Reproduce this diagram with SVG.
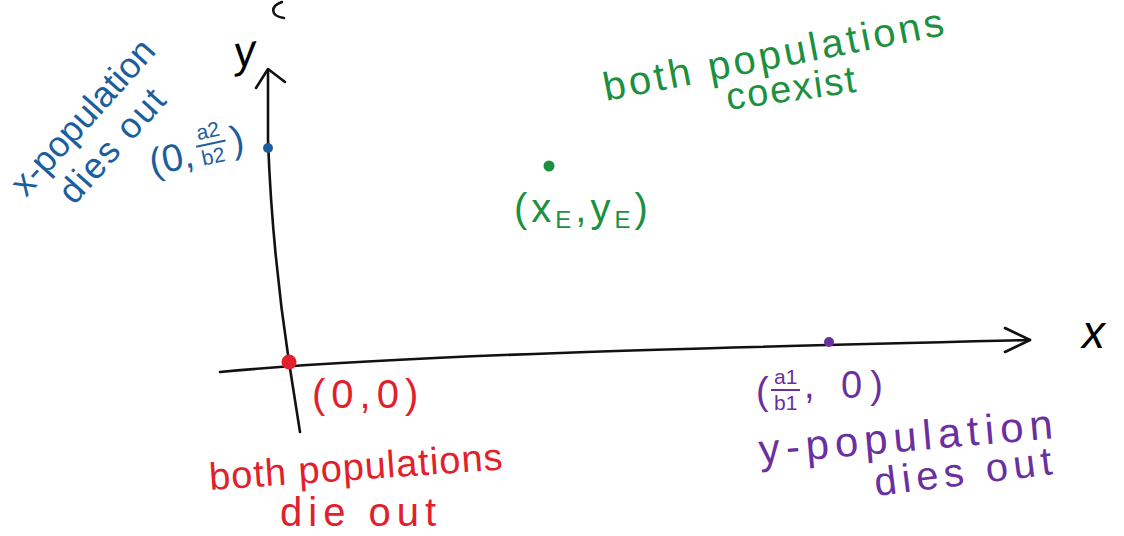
<svg xmlns="http://www.w3.org/2000/svg" width="1124" height="536" viewBox="0 0 1124 536">
<style>
text{font-family:"Liberation Sans","DejaVu Sans",sans-serif;}
.ax{fill:none;stroke:#111;stroke-width:2.6;stroke-linecap:round;stroke-linejoin:round}
.blue{fill:#1b5e9e}
.green{fill:#1a9040}
.red{fill:#e2202c}
.purple{fill:#6a2fa0}
.lbl{font-size:38px}
.sm{font-size:21px}
</style>
<rect width="1124" height="536" fill="#fff"/>
<g id="connectors">
  <path class="ax" d="M268 70 L268 140 Q272 250 289 362 L300 432"/>
  <path class="ax" d="M256 88 L268 69 L285 82"/>
  <path class="ax" d="M220 372 C400 355 700 348 1030 340"/>
  <path class="ax" d="M1005 328 L1030 340 L1005 352"/>
  <path class="ax" d="M282 2 C270 6 270 16 284 18"/>
</g>
<g id="axis-labels">
  <text x="1082" y="348" font-size="46" font-style="italic" font-family="Liberation Serif,serif">x</text>
  <text x="234" y="66" font-size="44" font-style="italic" font-family="Liberation Serif,serif" transform="rotate(-8 245 55)">y</text>
</g>
<g id="node-origin">
  <circle cx="289" cy="362" r="7.5" fill="#e2202c"/>
  <text class="red" font-size="40" letter-spacing="6" x="312" y="408">(0,0)</text>
  <text class="red" font-size="38" letter-spacing="1" x="210" y="490" transform="rotate(-4 210 490)">both populations</text>
  <text class="red" font-size="40" letter-spacing="6" x="280" y="526">die out</text>
</g>
<g id="node-y-axis">
  <circle cx="268" cy="148" r="5" fill="#1b5e9e"/>
  <g transform="rotate(-12 200 150)">
    <text class="blue lbl" x="148" y="165">(0,</text>
    <text class="blue sm" x="200" y="140">a2</text>
    <line x1="197" y1="146" x2="227" y2="146" stroke="#1b5e9e" stroke-width="2"/>
    <text class="blue sm" x="200" y="166">b2</text>
    <text class="blue lbl" x="232" y="160">)</text>
  </g>
  <text class="blue" font-size="36" x="26" y="198" transform="rotate(-48 26 198)">x-population</text>
  <text class="blue" font-size="36" letter-spacing="2" x="74" y="206" transform="rotate(-48 74 206)">dies out</text>
</g>
<g id="node-coexist">
  <circle cx="549" cy="166" r="5.5" fill="#1a9040"/>
  <text class="green" font-size="40" letter-spacing="4" x="514" y="222">(x<tspan font-size="24" dy="6">E</tspan><tspan dy="-6">,</tspan>y<tspan font-size="24" dy="6">E</tspan><tspan dy="-6">)</tspan></text>
  <text class="green" font-size="40" letter-spacing="3.5" x="606" y="101" transform="rotate(-11 606 101)">both populations</text>
  <text class="green" font-size="38" letter-spacing="2" x="728" y="110" transform="rotate(-8 728 110)">coexist</text>
</g>
<g id="node-x-axis">
  <circle cx="829" cy="342" r="5" fill="#6a2fa0"/>
  <text class="purple lbl" x="756" y="404">(</text>
  <text class="purple sm" x="774" y="384">a1</text>
  <line x1="771" y1="390" x2="800" y2="390" stroke="#6a2fa0" stroke-width="2"/>
  <text class="purple sm" x="774" y="410">b1</text>
  <text class="purple lbl" letter-spacing="8" x="804" y="398">, 0)</text>
  <text class="purple" font-size="42" letter-spacing="6" x="760" y="464" transform="rotate(-5 760 464)">y-population</text>
  <text class="purple" font-size="40" letter-spacing="5.5" x="876" y="496" transform="rotate(-7 876 496)">dies out</text>
</g>
</svg>
